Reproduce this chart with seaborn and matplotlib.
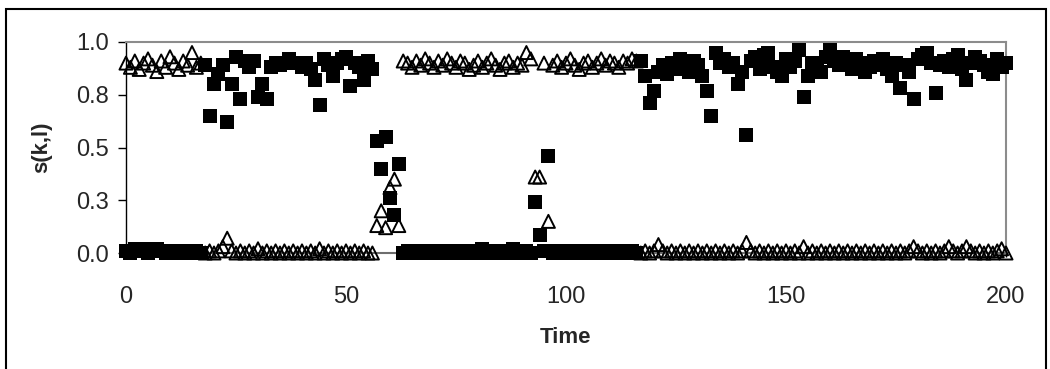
import numpy as np
import pandas as pd
import matplotlib
matplotlib.use("Agg")
import matplotlib.pyplot as plt
from matplotlib.patches import Rectangle
import seaborn as sns

# time steps
time = list(range(0, 201))

# state probabilities of the first class (filled squares)
sq_a = [0.01, 0.00, 0.02, 0.02, 0.01, 0.00, 0.02, 0.02, 0.01, 0.00, 0.01, 0.00, 0.01, 0.00, 0.01, 0.00, 0.01, 0.00]
sq_b = [0.89, 0.65, 0.80, 0.85, 0.89, 0.62, 0.80, 0.93, 0.73, 0.91, 0.88, 0.91, 0.74, 0.80, 0.73, 0.88,
        0.90, 0.89, 0.90, 0.92, 0.90, 0.90, 0.88, 0.90, 0.87, 0.82, 0.70, 0.92, 0.89, 0.84, 0.90, 0.92,
        0.93, 0.79, 0.90, 0.88, 0.82, 0.91, 0.87]
sq_c = [0.53, 0.40, 0.55, 0.26, 0.18, 0.42]
sq_d = [0.00, 0.01, 0.00, 0.01, 0.00, 0.00, 0.01, 0.00, 0.01, 0.00, 0.00, 0.01, 0.00, 0.01, 0.00, 0.00,
        0.01, 0.00, 0.02, 0.01, 0.00, 0.01, 0.00, 0.01, 0.00, 0.02, 0.01, 0.00, 0.01, 0.00, 0.24, 0.085,
        0.01, 0.46, 0.00, 0.01, 0.00, 0.01, 0.00, 0.00, 0.01, 0.00, 0.01, 0.00, 0.00, 0.01, 0.00, 0.01,
        0.00, 0.00, 0.01, 0.00, 0.01, 0.00]
sq_e = [0.91, 0.84, 0.71, 0.77, 0.86, 0.89, 0.85, 0.90, 0.87, 0.92, 0.88, 0.86, 0.91, 0.89, 0.84, 0.77,
        0.65, 0.95, 0.90, 0.92, 0.88, 0.90, 0.80, 0.86, 0.56, 0.91, 0.93, 0.87, 0.94, 0.95, 0.88, 0.86,
        0.84, 0.92, 0.88, 0.91, 0.96, 0.74, 0.84, 0.90, 0.88, 0.86, 0.93, 0.96, 0.91, 0.89, 0.93, 0.91,
        0.87, 0.92, 0.90, 0.86, 0.88, 0.91, 0.89, 0.92, 0.87, 0.84, 0.90, 0.78, 0.89, 0.86, 0.73, 0.92,
        0.94, 0.95, 0.90, 0.76, 0.89, 0.91, 0.88, 0.92, 0.94, 0.87, 0.82, 0.90, 0.93, 0.91, 0.89, 0.86,
        0.85, 0.92, 0.88, 0.90]
squares = sq_a + sq_b + sq_c + sq_d + sq_e

# state probabilities of the second class (open triangles)
tr_a = [0.90, 0.88, 0.91, 0.87, 0.90, 0.92, 0.89, 0.86, 0.91, 0.88, 0.93, 0.90, 0.87, 0.91, 0.89, 0.95, 0.88, 0.90]
tr_b = [0.00, 0.01, 0.00, 0.01, 0.03, 0.07, 0.01, 0.00, 0.01, 0.00, 0.01, 0.00, 0.02, 0.00, 0.01, 0.00,
        0.01, 0.00, 0.01, 0.00, 0.01, 0.00, 0.01, 0.00, 0.01, 0.00, 0.02, 0.00, 0.01, 0.00, 0.01, 0.00,
        0.01, 0.00, 0.01, 0.00, 0.01, 0.00, 0.00]
tr_c = [0.13, 0.20, 0.12, 0.31, 0.35, 0.13]
tr_d = [0.91, 0.90, 0.88, 0.91, 0.89, 0.92, 0.90, 0.88, 0.91, 0.89, 0.92, 0.90, 0.88, 0.91, 0.90, 0.87,
        0.89, 0.91, 0.88, 0.90, 0.92, 0.89, 0.87, 0.90, 0.91, 0.88, 0.90, 0.89, 0.95, 0.92, 0.36, 0.36,
        0.90, 0.15, 0.89, 0.91, 0.88, 0.90, 0.92, 0.89, 0.87, 0.90, 0.91, 0.88, 0.90, 0.92, 0.89, 0.91,
        0.90, 0.88, 0.91, 0.90, 0.92, 0.91]
tr_e = [0.00, 0.01, 0.00, 0.01, 0.04, 0.01, 0.00, 0.01, 0.00, 0.01, 0.00, 0.01, 0.00, 0.01, 0.00, 0.01,
        0.00, 0.01, 0.00, 0.01, 0.00, 0.01, 0.00, 0.01, 0.05, 0.01, 0.00, 0.01, 0.00, 0.01, 0.00, 0.01,
        0.00, 0.01, 0.00, 0.01, 0.00, 0.03, 0.00, 0.01, 0.00, 0.01, 0.00, 0.01, 0.00, 0.01, 0.00, 0.01,
        0.00, 0.01, 0.00, 0.01, 0.00, 0.01, 0.00, 0.01, 0.00, 0.01, 0.00, 0.01, 0.00, 0.01, 0.03, 0.01,
        0.00, 0.01, 0.00, 0.01, 0.00, 0.01, 0.03, 0.01, 0.00, 0.01, 0.03, 0.01, 0.00, 0.01, 0.00, 0.01,
        0.00, 0.01, 0.02, 0.00]
triangles = tr_a + tr_b + tr_c + tr_d + tr_e

y_ticks = [0.0, 0.25, 0.5, 0.75, 1.0]
y_tick_labels = ["0.0", "0.3", "0.5", "0.8", "1.0"]
x_ticks = [0, 50, 100, 150, 200]

df = pd.DataFrame({"Time": time, "squares": squares, "triangles": triangles})

sns.set_style("white")
plt.rcParams["font.family"] = ["Liberation Sans", "DejaVu Sans"]

fig = plt.figure(figsize=(10.5, 3.69), dpi=100)
ax = fig.add_axes([126 / 1050, 1 - 253 / 369, 880 / 1050, 211 / 369])

sns.scatterplot(data=df, x="Time", y="squares", marker="s", s=100, color="black",
                edgecolor="black", linewidth=0, ax=ax, zorder=3, clip_on=False)
sns.scatterplot(data=df, x="Time", y="triangles", marker="^", s=88, facecolor="none",
                edgecolor="black", linewidth=1.4, ax=ax, zorder=4, clip_on=False)

ax.set_xlim(0, 200)
ax.set_ylim(0, 1.0)
ax.set_xticks(x_ticks)
ax.set_xticklabels([str(v) for v in x_ticks])
ax.set_yticks(y_ticks)
ax.set_yticklabels(y_tick_labels)

for side in ["top", "right"]:
    ax.spines[side].set_visible(True)
    ax.spines[side].set_color("#8c8c8c")
    ax.spines[side].set_linewidth(1.5)
ax.spines["left"].set_color("black")
ax.spines["left"].set_linewidth(1.0)
ax.spines["bottom"].set_color("#6e6e6e")
ax.spines["bottom"].set_linewidth(1.5)

ax.tick_params(axis="y", direction="out", length=6, width=1, color="black",
               labelsize=17, pad=6, left=True)
ax.tick_params(axis="x", direction="out", length=3, width=1, color="black",
               labelsize=17, pad=21, bottom=True)

ax.set_xlabel("Time", fontsize=16, fontweight="bold", va="top")
ax.xaxis.set_label_coords(0.5, -0.35)
ax.set_ylabel("s(k,l)", fontsize=16, fontweight="bold", va="bottom")
ax.yaxis.set_label_coords(-0.084, 0.5)

# chart outline
fig.patches.append(Rectangle((6 / 1050, -0.05), 1040 / 1050, 1 - 9 / 369 + 0.05,
                             transform=fig.transFigure, fill=False,
                             edgecolor="black", linewidth=1.5))

fig.savefig("out.png", dpi=100)
